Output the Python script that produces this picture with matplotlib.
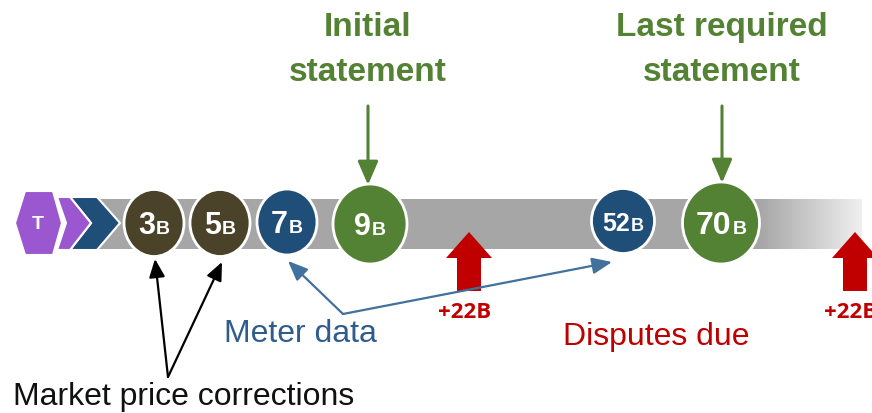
import matplotlib.pyplot as plt
import matplotlib.patches as mpatches
import numpy as np
from matplotlib.offsetbox import TextArea, HPacker, AnnotationBbox

# business days on the timeline
days = [3, 5, 7, 9, 52, 70]
day_colors = ['#4A4229', '#4A4229', '#1F4E79', '#548235', '#1F4E79', '#548235']
dispute_days = [22, 22]
start_label = 'T'
top_labels = [['Initial', 'statement'], ['Last required', 'statement']]
meter_label = 'Meter data'
dispute_label = 'Disputes due'
price_label = 'Market price corrections'

# layout (pixels, figure is 872x414)
circle_x = [154, 220, 287, 370, 623, 721]
circle_y = [224, 224, 223, 225, 222, 224]
circle_w = [60, 60, 60, 74, 63, 77]
circle_h = [67, 67, 66, 80, 65, 82]
digit_size = [22, 22, 22, 22, 18, 23]
b_size = [14, 14, 14, 14, 13, 14]
dispute_x = [469, 855]
top_x = [368, 722]

GREEN = '#548235'
RED = '#C00000'
BLUE_TXT = '#2F5C8C'
BLUE_LN = '#41719C'
GRAY = '#A6A6A6'

fig = plt.figure(figsize=(8.72, 4.14), dpi=100)
ax = fig.add_axes([0, 0, 1, 1])
ax.set_xlim(0, 872)
ax.set_ylim(414, 0)
ax.axis('off')

# gray timeline bar with faded end
ax.add_patch(mpatches.Rectangle((98, 200), 662, 50, fc=GRAY, ec='none', zorder=1))
grad = np.linspace(0, 1, 200)
c0 = np.array([0xA6, 0xA6, 0xA6]) / 255
c1 = np.array([0xF0, 0xF0, 0xF0]) / 255
img = (c0[None, :] * (1 - grad[:, None]) + c1[None, :] * grad[:, None])[None, :, :]
ax.imshow(img, extent=(759, 861, 250, 200), aspect='auto', zorder=1)

# start hexagon + chevrons
hexagon = [(15, 224), (25, 192), (53, 192), (62, 224), (53, 256), (25, 256)]
purple_chev = [(57, 198), (70, 198), (91, 224), (70, 251), (57, 251), (66, 224)]
blue_chev = [(70, 198), (97, 198), (120, 224), (97, 251), (70, 251), (91, 224)]
ax.add_patch(mpatches.Polygon(blue_chev, fc='#1F4E79', ec='white', lw=1.5, zorder=2))
ax.add_patch(mpatches.Polygon(purple_chev, fc='#9B57CF', ec='white', lw=1.5, zorder=2))
ax.add_patch(mpatches.Polygon(hexagon, fc='#9B57CF', ec='white', lw=1.5, zorder=3))
ax.text(38, 225, start_label, color='white', fontsize=14, fontweight='bold',
        family='Liberation Sans', ha='center', va='center', zorder=4)

# day circles
for i, d in enumerate(days):
    ax.add_patch(mpatches.Ellipse((circle_x[i], circle_y[i]), circle_w[i], circle_h[i],
                                  fc=day_colors[i], ec='white', lw=2, zorder=4))
    num = TextArea(str(d), textprops=dict(color='white', fontsize=digit_size[i], fontweight='bold',
                                          family='Liberation Sans'))
    unit = TextArea('B', textprops=dict(color='white', fontsize=b_size[i], fontweight='bold',
                                        family='Liberation Sans'))
    pack = HPacker(children=[num, unit], align='baseline', pad=0, sep=1)
    ab = AnnotationBbox(pack, (circle_x[i], circle_y[i] + 2), frameon=False,
                        box_alignment=(0.5, 0.5), zorder=5)
    ax.add_artist(ab)

# dispute arrows
for x, d in zip(dispute_x, dispute_days):
    ax.add_patch(mpatches.FancyArrow(x, 292, 0, -59, width=24, head_width=46, head_length=26,
                                     length_includes_head=True, fc=RED, ec='none', zorder=3))
    ax.text(x - 4, 318, f'+{d}B', color=RED, fontsize=16, fontweight='bold',
            family='Open Sans', ha='center', va='baseline', zorder=3)

# statement labels with green arrows
for k, (x, lines) in enumerate(zip(top_x, top_labels)):
    ax.text(x, 36, lines[0], color=GREEN, fontsize=24, fontweight='bold',
            family='Liberation Sans', ha='center', va='baseline')
    ax.text(x, 81, lines[1], color=GREEN, fontsize=24, fontweight='bold',
            family='Liberation Sans', ha='center', va='baseline')
    tip = circle_y[3 if k == 0 else 5] - circle_h[3 if k == 0 else 5] / 2 + 1
    ax.annotate('', xy=(x, tip), xytext=(x, 107),
                arrowprops=dict(arrowstyle='-|>,head_length=0.72,head_width=0.31', color=GREEN,
                                lw=2.2, mutation_scale=20, shrinkA=0, shrinkB=0), zorder=3)

# meter data
ax.text(224, 342, meter_label, color=BLUE_TXT, fontsize=23, family='Liberation Sans',
        ha='left', va='baseline')
for tip in [(288, 262), (612, 263)]:
    ax.annotate('', xy=tip, xytext=(343, 315),
                arrowprops=dict(arrowstyle='-|>,head_length=0.6,head_width=0.25', color=BLUE_LN,
                                lw=1.6, mutation_scale=20, shrinkA=0, shrinkB=0), zorder=6)

# disputes due
ax.text(563, 345, dispute_label, color=RED, fontsize=23, family='Liberation Sans',
        ha='left', va='baseline')

# market price corrections
ax.text(13, 405, price_label, color='#111111', fontsize=23, family='Liberation Sans',
        ha='left', va='baseline')
for tip in [(155, 260), (222, 263)]:
    ax.annotate('', xy=tip, xytext=(168, 378),
                arrowprops=dict(arrowstyle='-|>,head_length=0.55,head_width=0.24', color='black',
                                lw=1.6, mutation_scale=20, shrinkA=0, shrinkB=0), zorder=6)

fig.savefig('out.png', dpi=100, facecolor='white')
